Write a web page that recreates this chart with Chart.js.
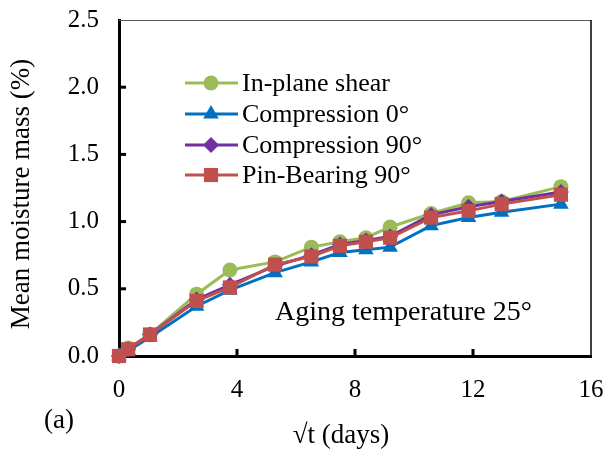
<!DOCTYPE html>
<html lang="en">
<head>
    <meta charset="UTF-8">
    <title>Mean moisture mass</title>
    <script src="https://cdn.jsdelivr.net/npm/chart.js"></script>
    <style>
        body { margin: 0; background: #fff; }
        #wrap { width: 608px; height: 453px; }
    </style>
</head>
<body>
    <div id="wrap"><canvas id="moistChart"></canvas></div>

    <script>
        // sqrt(t) in days
        const sqrtDays = [0, 0.31, 1.05, 2.63, 3.76, 5.29, 6.52, 7.49, 8.37, 9.19, 10.58, 11.85, 12.97, 14.98];

        const inPlaneShear  = [0, 0.06, 0.16, 0.46, 0.64, 0.70, 0.81, 0.85, 0.88, 0.96, 1.06, 1.14, 1.15, 1.26];
        const compression0  = [0, 0.04, 0.14, 0.37, 0.49, 0.62, 0.70, 0.77, 0.79, 0.81, 0.97, 1.03, 1.07, 1.13];
        const compression90 = [0, 0.05, 0.16, 0.42, 0.53, 0.67, 0.75, 0.83, 0.86, 0.89, 1.05, 1.11, 1.15, 1.22];
        const pinBearing90  = [0, 0.05, 0.16, 0.41, 0.51, 0.68, 0.74, 0.82, 0.85, 0.88, 1.03, 1.08, 1.13, 1.20];

        const seriesNames = ["In-plane shear", "Compression 0°", "Compression 90°", "Pin-Bearing 90°"];
        const seriesColors = ["#9BBB59", "#0070C0", "#7030A0", "#C0504D"];
        const seriesMarkers = ["circle", "triangle", "rectRot", "rect"];
        const markerSizes = [7.5, 9, 8, 10];
        const seriesValues = [inPlaneShear, compression0, compression90, pinBearing90];

        const serif = "'Liberation Serif', 'Times New Roman', serif";

        function pts(vals) {
            return vals.map((v, i) => ({ x: sqrtDays[i], y: v }));
        }

        const datasets = seriesNames.map((name, k) => ({
            label: name,
            data: pts(seriesValues[k]),
            borderColor: seriesColors[k],
            backgroundColor: seriesColors[k],
            borderWidth: 3,
            pointStyle: seriesMarkers[k],
            pointRadius: markerSizes[k],
            pointBorderWidth: 0,
            order: 4 - k,
            clip: false
        }));

        // frame, inward ticks, legend and text labels
        const decorations = {
            id: "decorations",
            afterDraw(chart) {
                const ctx = chart.ctx;
                const a = chart.chartArea;
                const xs = chart.scales.x, ys = chart.scales.y;
                ctx.save();

                // top and right frame
                ctx.strokeStyle = "#595959";
                ctx.lineWidth = 1;
                ctx.beginPath();
                ctx.moveTo(a.left, a.top + 0.5);
                ctx.lineTo(a.right, a.top + 0.5);
                ctx.stroke();
                ctx.strokeStyle = "#000";
                ctx.lineWidth = 1.5;
                ctx.beginPath();
                ctx.moveTo(a.right, a.top);
                ctx.lineTo(a.right, a.bottom);
                ctx.stroke();

                // inward tick marks
                ctx.lineWidth = 3;
                ys.ticks.forEach(t => {
                    if (t.value <= 0 || t.value >= 2.5) return;
                    const y = ys.getPixelForValue(t.value);
                    ctx.beginPath();
                    ctx.moveTo(a.left, y);
                    ctx.lineTo(a.left + 7, y);
                    ctx.stroke();
                });
                xs.ticks.forEach(t => {
                    if (t.value <= 0 || t.value >= 16) return;
                    const x = xs.getPixelForValue(t.value);
                    ctx.beginPath();
                    ctx.moveTo(x, a.bottom);
                    ctx.lineTo(x, a.bottom - 7);
                    ctx.stroke();
                });

                // legend
                ctx.font = "26px " + serif;
                ctx.textBaseline = "middle";
                ctx.textAlign = "left";
                const rowY = [83, 114, 145, 175];
                chart.data.datasets.forEach((ds, k) => {
                    const y = rowY[k];
                    ctx.strokeStyle = ds.borderColor;
                    ctx.lineWidth = 3;
                    ctx.beginPath();
                    ctx.moveTo(185, y);
                    ctx.lineTo(238, y);
                    ctx.stroke();
                    ctx.fillStyle = ds.backgroundColor;
                    Chart.helpers.drawPoint(ctx, {
                        pointStyle: ds.pointStyle,
                        radius: ds.pointRadius,
                        borderWidth: 0,
                        rotation: 0
                    }, 211, y);
                    ctx.fillStyle = "#000";
                    ctx.fillText(ds.label, 242, y + 1);
                });

                // annotation and panel label
                ctx.fillStyle = "#000";
                ctx.font = "28px " + serif;
                ctx.textBaseline = "alphabetic";
                ctx.fillText("Aging temperature 25°", 275, 320);
                ctx.textBaseline = "middle";
                ctx.textAlign = "center";
                ctx.font = "27px " + serif;
                ctx.fillText("(a)", 59, 421);
                ctx.fillText("√t (days)", 341, 436);

                // y title
                ctx.translate(22, 194);
                ctx.rotate(-Math.PI / 2);
                ctx.fillText("Mean moisture mass (%)", 0, 0);
                ctx.restore();
            }
        };

        new Chart(document.getElementById("moistChart"), {
            type: "line",
            data: { datasets: datasets },
            options: {
                responsive: true,
                maintainAspectRatio: false,
                animation: false,
                layout: { padding: { top: 20, right: 17, left: 0, bottom: 0 } },
                plugins: { legend: { display: false }, tooltip: { enabled: false } },
                scales: {
                    x: {
                        type: "linear",
                        min: 0, max: 16,
                        afterFit(s) { s.height = 97; s.paddingLeft = 0; s.paddingRight = 0; },
                        ticks: { stepSize: 4, color: "#000", padding: 19, font: { family: serif, size: 25 } },
                        grid: { display: false, drawTicks: false },
                        border: { color: "#000", width: 3 }
                    },
                    y: {
                        min: 0, max: 2.5,
                        afterFit(s) { s.width = 119; s.paddingTop = 0; s.paddingBottom = 0; },
                        ticks: {
                            stepSize: 0.5, color: "#000", padding: 20,
                            font: { family: serif, size: 25 },
                            callback: v => Number(v).toFixed(1)
                        },
                        grid: { display: false, drawTicks: false },
                        border: { color: "#000", width: 3 }
                    }
                }
            },
            plugins: [decorations]
        });
    </script>
</body>
</html>
